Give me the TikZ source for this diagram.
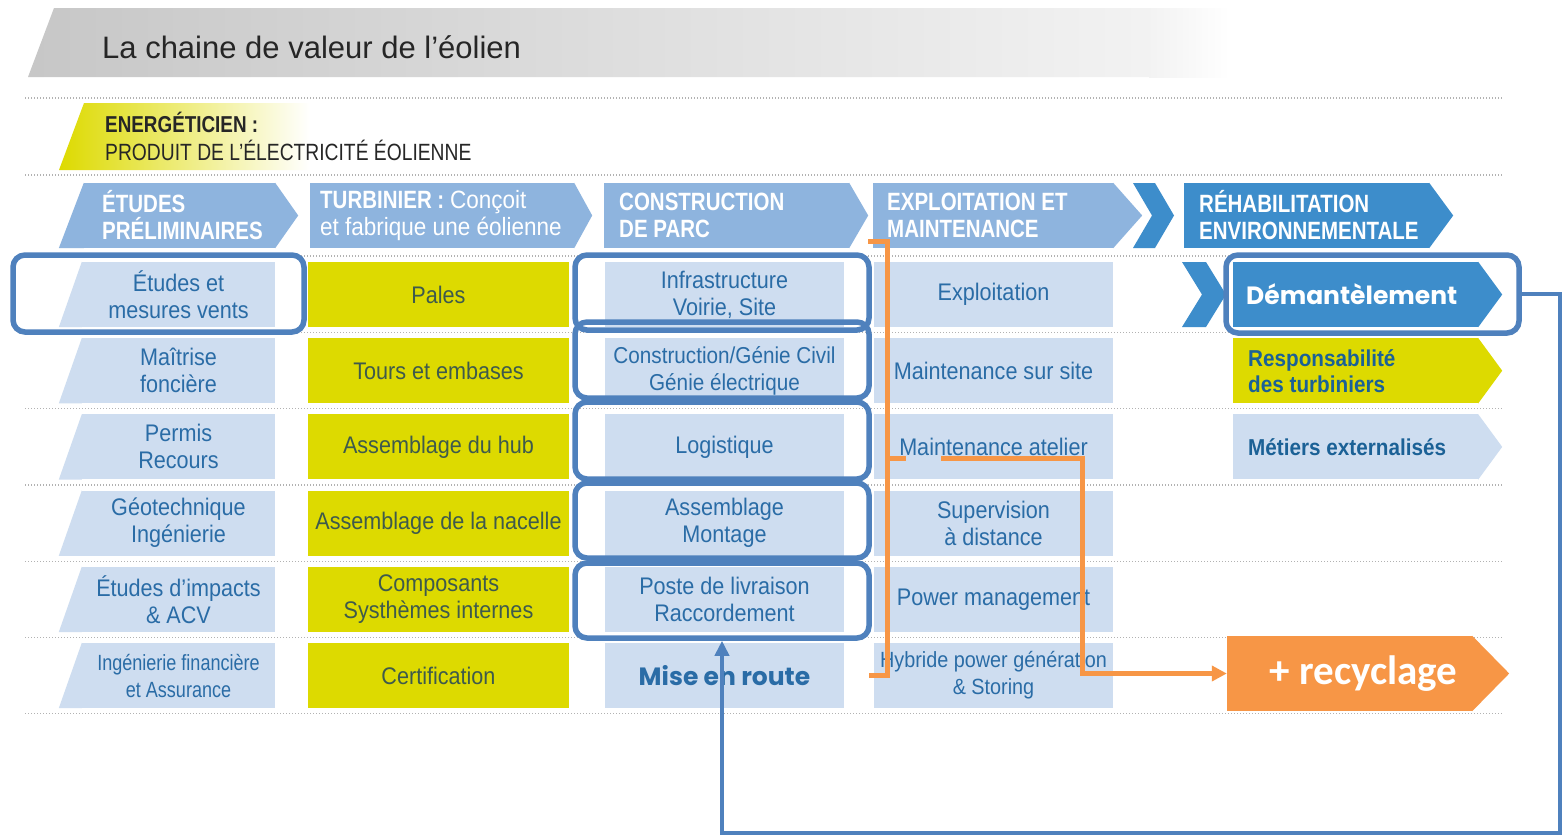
\documentclass[tikz,border=0pt]{standalone}
\usepackage{fontspec}
\setmainfont{Liberation Sans}
\newfontfamily\cond{Liberation Sans}[FakeStretch=0.9]
\newfontfamily\condh{Liberation Sans}[FakeStretch=0.82]
\newfontfamily\geo{Poppins}
\newfontfamily\calfnt{Carlito}
\usetikzlibrary{arrows.meta,calc}
\definecolor{hdr}{HTML}{8EB4DE}
\definecolor{hdrdark}{HTML}{3D8DCB}
\definecolor{pale}{HTML}{CEDDF0}
\definecolor{yel}{HTML}{DDDA00}
\definecolor{celltext}{HTML}{2A6CA6}
\definecolor{yeltext}{HTML}{3E5A4C}
\definecolor{darktext}{HTML}{1B6196}
\definecolor{boxblue}{HTML}{4F81BD}
\definecolor{orng}{HTML}{F79646}
\tikzset{
  dotline/.style={draw=black!30, line width=1.3pt, dash pattern=on 1.4pt off 1.6pt},
  hdrbox/.style={fill=hdr, minimum height=65pt, inner sep=0pt},
  hdrtxt/.style={text=white, font=\condh\bfseries\fontsize{25}{27}\selectfont, align=left, inner sep=0pt, anchor=west},
  cell/.style={fill=pale, minimum height=65pt, inner sep=0pt, text=celltext, font=\cond\fontsize{24}{27}\selectfont, align=center},
  ycell/.style={cell, fill=yel, text=yeltext},
  rbox/.style={draw=boxblue, line width=5.5pt, rounded corners=12pt, inner sep=0pt},
  bconn/.style={draw=boxblue, line width=4pt},
  oconn/.style={draw=orng, line width=5pt},
}
\begin{document}
\begin{tikzpicture}[x=1pt,y=-1pt]
\useasboundingbox (0,0) rectangle (1567,836);
\fill[white] (0,0) rectangle (1567,836);

% title band
\shade[left color=black!22, right color=black!5] (54,8) -- (1150,8) -- (1150,77) -- (28,77) -- cycle;
\shade[left color=black!5, right color=white] (1149,8) rectangle (1230,77);
\node[font=\fontsize{31}{31}\selectfont, text=black!85, anchor=base west, inner sep=0pt] (title) at (102,58) {La chaine de valeur de l’éolien};

% energeticien band
\shade[left color=yel, middle color=yel!45, right color=white] (84,103) -- (310,103) -- (310,170) -- (59,170) -- cycle;
\node[anchor=base west, inner sep=0pt, font=\condh\bfseries\fontsize{23}{23}\selectfont, text=black!85] (en1) at (105,132) {ENERGÉTICIEN :};
\node[anchor=base west, inner sep=0pt, font=\condh\fontsize{23.5}{23}\selectfont, text=black!85] (en2) at (105,160) {PRODUIT DE L’ÉLECTRICITÉ ÉOLIENNE};

% dotted lines
\foreach \yy in {98,175,256,332.6,408.8,485,561.2,637.4,713.6}
  \draw[dotline] (25,\yy) -- (1503,\yy);

% headers
\node[hdrbox, minimum width=191] (h1) at (179.5,215.5) {};
\fill[hdr] (h1.north west) -- (h1.south west) -- ++(-25,0) -- cycle;
\fill[hdr] (h1.north east) -- ($(h1.east)+(23,0)$) -- (h1.south east) -- cycle;
\node[hdrtxt] (h1t) at (102,215.5) {ÉTUDES\\PRÉLIMINAIRES};

\node[hdrbox, minimum width=264] (h2) at (442,215.5) {};
\fill[hdr] (h2.north east) -- ($(h2.east)+(18,0)$) -- (h2.south east) -- cycle;
\node[hdrtxt] (h2t) at (320,215.5) {TURBINIER : {\cond\mdseries Conçoit}\\{\cond\mdseries et fabrique une éolienne}};

\node[hdrbox, minimum width=245] (h3) at (726.5,215.5) {};
\fill[hdr] (h3.north east) -- ($(h3.east)+(19,0)$) -- (h3.south east) -- cycle;
\node[hdrtxt] (h3t) at (619,215.5) {CONSTRUCTION\\DE PARC};

\node[hdrbox, minimum width=240] (h4) at (993,215.5) {};
\fill[hdr] (h4.north east) -- ($(h4.east)+(29,0)$) -- (h4.south east) -- cycle;
\node[hdrtxt] (h4t) at (887,215.5) {EXPLOITATION ET\\MAINTENANCE};

\fill[hdrdark] (1133,183) -- (1155,183) -- (1174,215.5) -- (1155,248) -- (1133,248) -- (1152,215.5) -- cycle;

\node[hdrbox, fill=hdrdark, minimum width=245] (h5) at (1306.5,215.5) {};
\fill[hdrdark] (h5.north east) -- ($(h5.east)+(24,0)$) -- (h5.south east) -- cycle;
\node[hdrtxt] (h5t) at (1199,215.5) {RÉHABILITATION\\ENVIRONNEMENTALE};

% column 1
\foreach \nm/\yy/\txt in {a1/294.5/{Études et\\mesures vents}, a2/370.7/{Maîtrise\\foncière}, a3/446.9/{Permis\\Recours}, a4/523.1/{Géotechnique\\Ingénierie}, a5/599.3/{Études d’impacts\\\& ACV}}{
  \node[cell, minimum width=193] (\nm) at (178.5,\yy) {\txt};
  \fill[pale] (\nm.north west) -- (\nm.south west) -- ++(-23,0) -- cycle;
}
\node[cell, minimum width=193, font=\condh\fontsize{22}{27}\selectfont] (a6) at (178.5,675.5) {Ingénierie financière\\et Assurance};
\fill[pale] (a6.north west) -- (a6.south west) -- ++(-23,0) -- cycle;

% column 2
\node[ycell, minimum width=261] (b1) at (438.5,294.5) {Pales};
\node[ycell, minimum width=261] (b2) at (438.5,370.7) {Tours et embases};
\node[ycell, minimum width=261] (b3) at (438.5,446.9) {Assemblage du hub};
\node[ycell, minimum width=261] (b4) at (438.5,523.1) {Assemblage de la nacelle};
\node[ycell, minimum width=261] (b5) at (438.5,599.3) {Composants\\Systhèmes internes};
\node[ycell, minimum width=261] (b6) at (438.5,675.5) {Certification};

% column 3
\node[cell, minimum width=239] (c1) at (724.5,294.5) {Infrastructure\\Voirie, Site};
\node[cell, minimum width=239, font=\cond\fontsize{23}{27}\selectfont] (c2) at (724.5,370.7) {Construction/Génie Civil\\Génie électrique};
\node[cell, minimum width=239] (c3) at (724.5,446.9) {Logistique};
\node[cell, minimum width=239] (c4) at (724.5,523.1) {Assemblage\\Montage};
\node[cell, minimum width=239] (c5) at (724.5,599.3) {Poste de livraison\\Raccordement};
\node[cell, minimum width=239, font=\geo\bfseries\fontsize{25}{27}\selectfont, text=celltext] (c6) at (724.5,675.5) {Mise en route};

% column 4
\node[cell, minimum width=239] (d1) at (993.5,294.5) {Exploitation};
\node[cell, minimum width=239] (d2) at (993.5,370.7) {Maintenance sur site};
\node[cell, minimum width=239] (d3) at (993.5,446.9) {Maintenance atelier};
\node[cell, minimum width=239] (d4) at (993.5,523.1) {Supervision\\à distance};
\node[cell, minimum width=239] (d5) at (993.5,599.3) {Power management};
\node[cell, minimum width=239, font=\cond\fontsize{22}{27}\selectfont] (d6) at (993.5,675.5) {Hybride power génération\\\& Storing};

% column 5
\fill[hdrdark] (1182,262) -- (1206,262) -- (1226,294.5) -- (1206,327) -- (1182,327) -- (1202,294.5) -- cycle;
\node[cell, fill=hdrdark, minimum width=245] (e1) at (1355.5,294.5) {};
\fill[hdrdark] (e1.north east) -- ($(e1.east)+(24,0)$) -- (e1.south east) -- cycle;
\node[anchor=west, inner sep=0pt, text=white, font=\geo\bfseries\fontsize{25}{27}\selectfont] (e1t) at (1246,294.5) {Démantèlement};

\node[cell, fill=yel, minimum width=245] (e2) at (1355.5,370.7) {};
\fill[yel] (e2.north east) -- ($(e2.east)+(24,0)$) -- (e2.south east) -- cycle;
\node[anchor=west, inner sep=0pt, align=left, text=darktext, font=\cond\bfseries\fontsize{23}{26}\selectfont] (e2t) at (1248,370.7) {Responsabilité\\des turbiniers};

\node[cell, minimum width=245] (e3) at (1355.5,446.9) {};
\fill[pale] (e3.north east) -- ($(e3.east)+(24,0)$) -- (e3.south east) -- cycle;
\node[anchor=west, inner sep=0pt, text=darktext, font=\cond\bfseries\fontsize{23}{26}\selectfont] (e3t) at (1248,446.9) {Métiers externalisés};

% recyclage
\node[fill=orng, minimum width=245, minimum height=75, inner sep=0pt, text=white, font=\calfnt\bfseries\fontsize{41}{41}\selectfont] (recyc) at (1349.5,673.5) {\hspace*{28pt}+ recyclage};
\fill[orng] (recyc.north east) -- ($(recyc.east)+(37,0)$) -- (recyc.south east) -- cycle;

% rounded highlight boxes
\node[rbox, minimum width=291, minimum height=77] (bxa) at (158.5,293.5) {};
\node[rbox, minimum width=294, minimum height=75] (bxc1) at (722,292.5) {};
\node[rbox, minimum width=294, minimum height=76] (bxc2) at (722,360) {};
\node[rbox, minimum width=294, minimum height=77] (bxc3) at (722,440.5) {};
\node[rbox, minimum width=294, minimum height=75] (bxc4) at (722,520.5) {};
\node[rbox, minimum width=294, minimum height=75] (bxc5) at (722,600.5) {};
\node[rbox, minimum width=293, minimum height=78] (bxe) at (1372.5,294) {};

% orange bracket and connector
\coordinate (ot) at (868,241);
\coordinate (otr) at (887,241);
\coordinate (ob) at (869,675);
\coordinate (om) at (887,458);
\coordinate (otick) at (906,458);
\draw[oconn] (ot) -- (otr) |- (ob);
\draw[oconn] (om) -- (otick);
\coordinate (o1) at (941,458);
\coordinate (o2) at (1082,458);
\draw[oconn, -{Triangle[length=15pt,width=15pt]}] (o1) -- (o2) |- (recyc.west);

% blue connector
\coordinate (bl) at (1560,833);
\draw[bconn, -{Triangle[length=15pt,width=14pt]}] (bxe.east) -| (bl) -| (bxc5.south);
\end{tikzpicture}
\end{document}
